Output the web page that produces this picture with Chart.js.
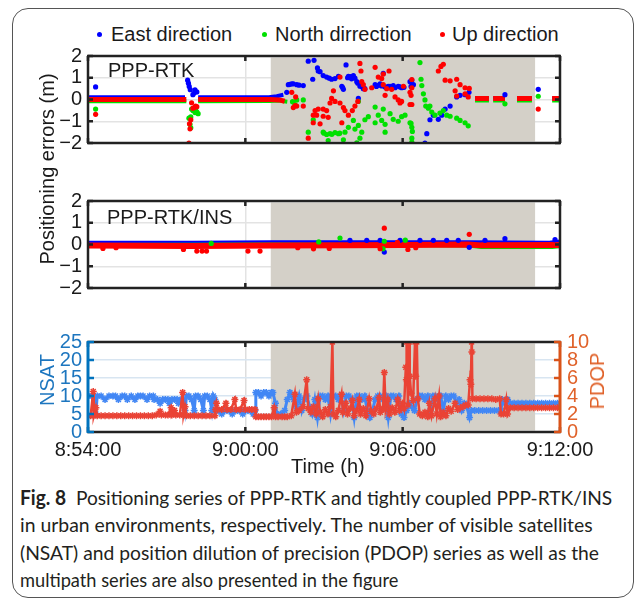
<!DOCTYPE html>
<html>
<head>
<meta charset="utf-8">
<script src="https://cdn.jsdelivr.net/npm/chart.js@4.4.1/dist/chart.umd.min.js"></script>
<style>
  body { margin: 0; width: 635px; height: 600px; position: relative; overflow: hidden; background: #fff;
         font-family: "Liberation Sans", Arial, sans-serif; color: #1a1a1a; }
  canvas { position: absolute; left: 0; }
  .t { position: absolute; white-space: nowrap; line-height: 1; font-size: 20px; }
  .dot { position: absolute; width: 5px; height: 5px; border-radius: 50%; }
  .rot { position: absolute; white-space: nowrap; line-height: 1; font-size: 20px; transform: translate(-50%, -50%) rotate(-90deg); }
  .cap { position: absolute; left: 20px; display: inline-block; white-space: nowrap; line-height: 1;
         font-family: Lato, "Noto Sans", sans-serif; font-size: 20px; color: #231f20; transform-origin: left center; }
  #box { position: absolute; left: 12px; top: 8px; width: 622px; height: 590px; box-sizing: border-box;
         border: 1.5px solid #555; border-radius: 16px; }
</style>
</head>
<body>
<div id="box"></div>

<div class="dot" style="left:97px;top:32px;background:#0000ff"></div>
<div class="t" style="left:111px;top:24px">East direction</div>
<div class="dot" style="left:262px;top:32px;background:#00e000"></div>
<div class="t" style="left:275px;top:24px">North dirrection</div>
<div class="dot" style="left:440px;top:32px;background:#ff0000"></div>
<div class="t" style="left:452px;top:24px">Up direction</div>

<canvas id="c1" width="635" height="123" style="top:38px"></canvas>
<canvas id="c2" width="635" height="123" style="top:183px"></canvas>
<canvas id="c3" width="635" height="143" style="top:323px"></canvas>

<div class="t" style="left:108px;top:60px">PPP-RTK</div>
<div class="t" style="left:107px;top:207px">PPP-RTK/INS</div>
<div class="rot" style="left:47px;top:169px">Positioning errors (m)</div>
<div class="rot" style="left:47px;top:380px;color:#1d76bf">NSAT</div>
<div class="rot" style="left:597px;top:381px;color:#e0622a">PDOP</div>
<div class="t" style="left:291px;top:456px">Time (h)</div>

<div class="cap" style="top:487px" data-w="592"><b>Fig. 8</b>&nbsp; Positioning series of PPP-RTK and tightly coupled PPP-RTK/INS</div>
<div class="cap" style="top:514px" data-w="573">in urban environments, respectively. The number of visible satellites</div>
<div class="cap" style="top:542px" data-w="579">(NSAT) and position dilution of precision (PDOP) series as well as the</div>
<div class="cap" style="top:569px" data-w="378">multipath series are also presented in the figure</div>

<script>
// time axis in minutes after 8:54:00
const timeTicks = [0, 6, 12, 18];
const timeLabels = ["8:54:00", "9:00:00", "9:06:00", "9:12:00"];
const shadeFrom = 6.97;
const shadeTo = 17.05;

// ---- PPP-RTK errors (m), [minute, value] ----
const rtkEastBand = [[0, 0.1], [3.7, 0.1], [3.71, null], [4.2, 0.1], [6.9, 0.1], [7.2, 0.15], [7.45, 0.22], [7.46, null],
  [14.76, 0.06], [15.29, 0.06], [15.3, null], [15.45, 0.06], [15.9, 0.06], [15.91, null], [16.36, 0.06], [16.93, 0.06], [16.94, null], [17.7, 0.06], [18, 0.06]];
const rtkNorthBand = [[0, -0.08], [3.75, -0.08], [3.76, null], [4.2, -0.08], [6.94, -0.07], [7.3, -0.05], [7.6, -0.1], [7.61, null],
  [14.76, -0.05], [15.29, -0.05], [15.3, null], [15.45, -0.05], [15.9, -0.05], [15.91, null], [16.36, -0.05], [16.93, -0.05], [16.94, null], [17.7, -0.05], [18, -0.05]];
const rtkUpBand = [[0, 0.0], [3.75, 0.0], [3.76, null], [4.2, 0.0], [6.94, 0.0], [7.3, -0.02], [7.5, -0.08], [7.51, null],
  [14.76, 0.05], [15.29, 0.05], [15.3, null], [15.45, 0.05], [15.9, 0.05], [15.91, null], [16.36, 0.05], [16.93, 0.05], [16.94, null], [17.7, 0.05], [18, 0.05]];

const rtkEast = [[0.29, 0.58], [3.8, 0.89], [3.83, 0.75], [3.86, 0.6], [3.9, 0.45], [4.0, 0.22], [4.05, 0.3], [4.08, 0.44], [4.15, 0.35],
  [7.58, 0.33], [7.64, 0.68], [7.7, 0.7], [7.77, 0.72], [7.83, 0.72], [7.96, 0.68], [8.05, 0.66], [8.21, 0.64],
  [8.4, 1.76], [8.57, 0.93], [8.62, 1.8], [8.75, 1.45], [8.78, 1.31], [8.85, 1.28], [8.97, 1.1], [9.1, 1.03], [9.2, 0.98], [9.29, 0.93],
  [9.42, 0.96], [9.55, 1.06], [9.68, 0.61], [9.71, 0.55], [9.74, 0.47], [9.84, 1.59], [9.9, 1.0], [9.93, 1.06], [10.0, 1.05], [10.05, 0.95],
  [10.12, 1.1], [10.18, 0.98], [10.25, 0.82], [10.29, 0.75], [10.31, 0.05], [10.37, 0.61], [10.44, 0.6], [10.5, 0.5], [10.56, 0.5],
  [10.95, 0.68], [11.0, 0.6], [11.1, 0.66], [11.14, 0.72], [11.2, 0.62], [11.26, 1.2], [11.33, 0.58], [11.39, 0.54], [11.45, 0.6],
  [11.52, 0.6], [11.58, 0.55], [11.64, 0.64], [11.71, 0.54], [11.83, 0.61], [11.9, 0.58], [11.96, 0.54], [12.05, 0.56],
  [12.28, 0.82], [12.32, 0.6], [12.35, 0.89], [12.41, 0.68], [12.85, -2.0], [12.92, -1.57], [13.04, -0.93], [13.17, -0.72],
  [13.36, -0.91], [13.49, -0.72], [13.62, -0.44], [13.81, -0.3], [14.06, 0.12], [14.19, 0.19], [14.38, 0.22], [14.53, 0.33],
  [15.9, 0.22], [17.17, 0.47]];
const rtkNorth = [[0.29, -0.44], [3.85, -0.86], [3.89, -1.14], [3.92, -1.3], [3.92, -0.8], [3.95, -0.44], [4.0, -0.5], [4.08, -0.6],
  [4.1, -0.48], [4.15, -0.57], [4.2, -0.65], [7.8, -0.1], [7.89, -0.23], [7.96, -0.02], [8.21, -0.02],
  [8.4, -1.5], [8.59, -0.93], [8.97, -1.5], [9.0, -1.55], [9.1, -1.61], [9.16, -1.89], [9.23, -1.57], [9.3, -1.6], [9.42, -1.52],
  [9.55, -1.57], [9.6, -1.55], [9.74, -1.85], [9.8, -1.5], [9.93, -1.28], [10.12, -0.96], [10.18, -1.36], [10.25, -1.99],
  [10.31, -1.19], [10.31, -0.09], [10.37, -1.78], [10.44, -1.5], [10.56, -0.93], [10.69, -0.79], [10.95, -1.07], [10.95, -0.35],
  [11.07, -0.72], [11.2, -0.96], [11.26, -0.44], [11.33, -1.14], [11.33, -1.5], [11.52, -0.65], [11.64, -0.91], [11.83, -1.0],
  [11.96, -0.79], [12.09, -0.72], [12.28, -1.07], [12.32, -1.1], [12.35, -1.28], [12.37, -1.47], [12.35, -1.78], [12.35, -1.96],
  [12.66, 1.7], [12.7, 0.93], [12.73, 0.64], [12.79, 0.26], [12.85, -0.02], [12.88, -0.3], [12.98, -0.4], [13.04, -0.3],
  [13.11, -0.58], [13.23, -0.72], [13.42, -0.62], [13.55, -0.51], [13.68, -0.72], [13.81, -0.77], [14.06, -0.86], [14.19, -0.96],
  [14.38, -1.07], [14.5, -1.21], [15.9, -0.2], [17.17, 0.15]];
const rtkUp = [[0.29, -0.68], [3.85, -2.0], [3.87, -1.12], [3.89, -1.35], [3.92, -0.93], [3.95, -0.15], [4.0, -0.4], [4.08, -0.36],
  [4.1, -0.3], [4.15, -0.33], [7.77, 0.33], [7.83, -0.37], [7.9, -0.28], [7.92, 0.12], [7.96, -0.3], [8.21, -0.3],
  [8.4, -1.78], [8.59, -0.72], [8.59, -1.07], [8.66, -0.51], [8.72, -0.72], [8.78, -0.44], [8.85, -1.12], [8.97, -0.44], [8.97, -0.77],
  [9.1, -0.51], [9.16, -0.82], [9.23, -0.16], [9.29, 0.05], [9.36, 0.4], [9.42, -0.09], [9.61, -0.16], [9.61, 1.03], [9.68, -1.07],
  [9.74, -0.37], [9.8, -0.51], [9.93, -0.72], [10.08, -0.51], [10.18, -0.3], [10.29, -0.09], [10.37, 1.66], [10.41, 1.31],
  [10.44, 0.82], [10.5, 0.68], [10.56, 0.47], [10.82, 0.54], [10.95, 1.48], [11.07, 1.03], [11.2, 0.96], [11.26, 1.17], [11.26, 0.68],
  [11.33, 0.19], [11.39, 0.5], [11.48, 1.31], [11.58, 0.47], [11.71, 0.12], [11.83, -0.02], [11.9, -0.16], [11.96, -0.09],
  [12.03, 0.61], [12.28, -0.23], [12.28, 0.33], [12.32, 0.19], [12.35, 0.54], [12.35, 0.92], [12.35, -0.23],
  [13.36, 1.31], [13.46, 1.52], [13.55, 1.62], [13.62, 0.89], [13.81, 0.86], [14.0, 0.4], [14.06, 0.93], [14.06, 0.16],
  [14.19, 0.68], [14.38, 0.54], [14.38, 0.26], [14.5, 0.12], [14.54, 0.51], [17.17, -0.44]];

// ---- PPP-RTK/INS errors (m) ----
const insEastBand = [[0, 0.08], [4, 0.08], [7, 0.1], [10, 0.1], [14.5, 0.1], [17.6, 0.08], [18, 0.14]];
const insNorthBand = [[0, -0.02], [7, 0.0], [14.5, -0.05], [15, -0.12], [17.7, -0.12], [18, -0.08]];
const insUpBand = [[0, -0.05], [4, -0.07], [7, -0.05], [10, -0.04], [12, -0.02], [14.5, 0.0], [15, -0.04], [18, -0.02]];
const insEast = [[9.99, 0.19], [10.63, 0.19], [11.14, 0.19], [11.3, -0.35], [11.9, 0.19], [12.66, 0.19], [13.17, 0.19],
  [13.68, 0.19], [14.12, 0.19], [14.54, -0.13], [15.14, 0.19], [15.9, 0.27], [17.81, 0.22]];
const insNorth = [[4.7, 0.05], [8.8, 0.12], [9.61, 0.3], [11.25, -0.2], [11.3, 0.15], [12.1, 0.2]];
const insUp = [[0.57, -0.18], [1.07, -0.15], [3.64, -0.23], [4.15, -0.3], [4.35, -0.3], [4.52, -0.3], [6.1, -0.3], [6.56, -0.3],
  [8.0, -0.15], [8.6, -0.2], [9.2, -0.18], [11.14, -0.19], [11.3, 0.75], [11.8, 0.1], [12.2, -0.23], [12.5, -0.15], [14.54, 0.47]];

// ---- NSAT and PDOP ----
const nsat = [[0, 10], [0.15, 10], [0.25, 9], [0.3, 5], [0.35, 10], [0.5, 10], [0.65, 9], [0.8, 10], [0.95, 10], [1.05, 10], [1.16, 9],
  [1.3, 10], [1.4, 10], [1.5, 9], [1.65, 10], [1.79, 9], [1.9, 10], [2.0, 10], [2.1, 10], [2.25, 9], [2.35, 10], [2.49, 10],
  [2.52, 9], [2.65, 9], [2.75, 8], [2.85, 9], [2.95, 9], [3.05, 9], [3.1, 8], [3.2, 9], [3.3, 9], [3.4, 9], [3.45, 8], [3.55, 9],
  [3.64, 9], [3.7, 6], [3.76, 10], [3.85, 10], [3.95, 9], [4.05, 6], [4.1, 10], [4.2, 10], [4.3, 9], [4.4, 6], [4.45, 10], [4.55, 10],
  [4.65, 9], [4.72, 6], [4.78, 10], [4.84, 9], [4.9, 6], [5.0, 6], [5.1, 5], [5.2, 6], [5.3, 6], [5.4, 6], [5.5, 5], [5.6, 6], [5.7, 6],
  [5.8, 6], [5.9, 5], [6.0, 6], [6.1, 6], [6.2, 6], [6.3, 5], [6.37, 6], [6.4, 11], [6.5, 11], [6.6, 10], [6.7, 11], [6.8, 11],
  [6.9, 10], [7.0, 11], [7.05, 11], [7.15, 8], [7.2, 5], [7.35, 5], [7.5, 6], [7.6, 9], [7.7, 11], [7.77, 10],
  [7.85, 9], [7.95, 7], [8.05, 10], [8.15, 6], [8.25, 9], [8.35, 10], [8.45, 7], [8.55, 5], [8.65, 9], [8.75, 4], [8.85, 10],
  [8.95, 10], [9.05, 9], [9.15, 10], [9.25, 5], [9.35, 10], [9.45, 10], [9.55, 9], [9.65, 10], [9.75, 6], [9.85, 10], [9.95, 10],
  [10.05, 9], [10.15, 4], [10.25, 10], [10.35, 10], [10.45, 9], [10.55, 10], [10.65, 6], [10.75, 4], [10.85, 6], [10.95, 9],
  [11.05, 10], [11.15, 10], [11.25, 9], [11.35, 10], [11.45, 4], [11.55, 10], [11.65, 10], [11.75, 9], [11.85, 10], [11.95, 5],
  [12.05, 4], [12.15, 6], [12.25, 8], [12.35, 7], [12.45, 6], [12.55, 9], [12.65, 10], [12.75, 10], [12.85, 9], [12.95, 10],
  [13.05, 6], [13.15, 10], [13.25, 10], [13.35, 9], [13.45, 10], [13.55, 6], [13.65, 10], [13.75, 9], [13.85, 10], [13.95, 10],
  [14.05, 8], [14.15, 9], [14.25, 6], [14.35, 8], [14.45, 7], [14.55, 4], [14.62, 6], [14.75, 6], [14.9, 6], [15.05, 6], [15.2, 6],
  [15.35, 6], [15.5, 6], [15.65, 6], [15.75, 6], [15.8, 9], [15.9, 8], [16.0, 9], [16.1, 8], [16.25, 8], [16.4, 8], [16.55, 8],
  [16.7, 8], [16.85, 8], [17.0, 8], [17.15, 8], [17.3, 8], [17.45, 8], [17.6, 8], [17.75, 8], [17.9, 8], [18, 8]];
const pdop = [[0, 1.8], [0.1, 1.8], [0.2, 4.5], [0.22, 1.8], [0.3, 2.7], [0.35, 1.8], [0.5, 1.8], [0.65, 1.8], [0.8, 1.8], [0.95, 1.8],
  [1.1, 1.8], [1.25, 1.8], [1.4, 1.8], [1.55, 1.8], [1.7, 1.8], [1.85, 1.8], [2.0, 1.8], [2.15, 1.8], [2.3, 1.8], [2.45, 1.8],
  [2.6, 1.9], [2.75, 2.3], [2.8, 1.9], [2.95, 1.9], [3.05, 1.9], [3.17, 2.7], [3.2, 1.9], [3.3, 2.4], [3.35, 1.9], [3.5, 1.9],
  [3.61, 4.4], [3.64, 1.9], [3.7, 2.8], [3.76, 1.8], [3.9, 1.8], [4.05, 1.8], [4.2, 1.8], [4.35, 1.8], [4.5, 1.8], [4.65, 1.8],
  [4.84, 1.8], [4.86, 2.5], [4.9, 3.2], [4.95, 2.5], [5.1, 2.5], [5.26, 3.2], [5.3, 2.5], [5.45, 2.5], [5.6, 3.6], [5.65, 2.5],
  [5.8, 2.5], [5.95, 3.5], [6.0, 2.5], [6.15, 2.5], [6.25, 2.5], [6.37, 2.5], [6.4, 1.7], [6.5, 1.7], [6.6, 1.7], [6.7, 1.7],
  [6.8, 1.7], [6.9, 1.7], [7.0, 1.7], [7.1, 2.7], [7.15, 1.7], [7.25, 1.7], [7.4, 1.7], [7.5, 1.7], [7.6, 1.7], [7.75, 1.8],
  [7.89, 4.2], [7.95, 2.2], [8.05, 2.4], [8.2, 2.8], [8.34, 5.8], [8.4, 2.6], [8.5, 2.2], [8.6, 2.8],
  [8.7, 2.0], [8.78, 3.7], [8.85, 2.2], [8.95, 1.7], [9.05, 2.5], [9.15, 2.0], [9.25, 2.8], [9.32, 10], [9.36, 2.0], [9.45, 1.7],
  [9.55, 2.4], [9.67, 4.2], [9.72, 2.2], [9.83, 3.2], [9.9, 2.0], [10.0, 2.6], [10.08, 3.5], [10.15, 1.8], [10.25, 2.4],
  [10.34, 3.6], [10.4, 2.0], [10.5, 2.6], [10.6, 1.8], [10.72, 3.7], [10.8, 2.3], [10.9, 2.0], [11.0, 2.6], [11.1, 3.8],
  [11.15, 2.2], [11.25, 2.6], [11.3, 6.6], [11.35, 2.5], [11.43, 3.6], [11.5, 2.0], [11.6, 2.7], [11.7, 2.2], [11.81, 3.6],
  [11.88, 2.4], [11.99, 3.2], [12.05, 2.6], [12.12, 7.2], [12.14, 5.8], [12.15, 10], [12.2, 3.0], [12.25, 10], [12.27, 6.2],
  [12.32, 4.3], [12.4, 3.5], [12.47, 10], [12.5, 6.2], [12.54, 10], [12.58, 3.7], [12.65, 2.0], [12.75, 1.8], [12.85, 2.2],
  [12.95, 1.7], [13.02, 3.2], [13.1, 1.8], [13.23, 3.7], [13.3, 2.0], [13.39, 4.0], [13.45, 1.7], [13.55, 2.2], [13.65, 1.8],
  [13.75, 2.6], [13.85, 2.3], [14.0, 3.2], [14.1, 2.5], [14.2, 2.7], [14.3, 2.8], [14.4, 3.0], [14.5, 3.0], [14.57, 5.8],
  [14.6, 5.3], [14.63, 10], [14.64, 8.9], [14.66, 3.7], [14.8, 3.7], [14.95, 3.7], [15.1, 3.7], [15.25, 3.7], [15.4, 3.7],
  [15.55, 3.6], [15.7, 3.7], [15.75, 2.0], [15.85, 2.0], [15.95, 3.6], [16.0, 2.0], [16.1, 2.7], [16.25, 2.7], [16.4, 2.7],
  [16.55, 2.7], [16.7, 2.7], [16.85, 2.7], [17.0, 2.7], [17.15, 2.7], [17.3, 2.7], [17.45, 2.7], [17.6, 2.7], [17.75, 2.7],
  [17.9, 2.7], [18, 2.7]];

Chart.defaults.font.family = "'Liberation Sans', Arial, sans-serif";
Chart.defaults.font.size = 20;
Chart.defaults.color = "#1a1a1a";

function pts(arr) {
  return arr.map(function (p) { return { x: p[0], y: p[1] }; });
}
function dots(data, color, order) {
  return { data: pts(data), backgroundColor: color, borderColor: color, pointRadius: 2.6,
           pointBorderWidth: 0, showLine: false, order: order };
}
function band(data, color, width, order) {
  return { data: pts(data), borderColor: color, backgroundColor: color, borderWidth: width,
           pointRadius: 0, showLine: true, spanGaps: false, order: order };
}
function minus(v) {
  return v < 0 ? "\u2212" + Math.abs(v) : "" + v;
}

// shaded period, black box and inward ticks
var framePlugin = {
  id: "frame",
  beforeDatasetsDraw: function (chart) {
    var a = chart.chartArea, ctx = chart.ctx, x = chart.scales.x;
    var x0 = x.getPixelForValue(shadeFrom), x1 = x.getPixelForValue(shadeTo);
    ctx.save();
    ctx.fillStyle = "#d4d0c8";
    ctx.fillRect(x0, a.top + 1.5, x1 - x0, a.bottom - a.top - 3);
    ctx.restore();
  },
  afterDatasetsDraw: function (chart, args, opts) {
    var a = chart.chartArea, ctx = chart.ctx, s = chart.scales;
    ctx.save();
    ctx.lineWidth = 2.5;
    function seg(x0, y0, x1, y1, c) {
      ctx.strokeStyle = c;
      ctx.beginPath();
      ctx.moveTo(x0, y0);
      ctx.lineTo(x1, y1);
      ctx.stroke();
    }
    seg(a.left - 1, a.top, a.right + 1, a.top, "#222");
    seg(a.left - 1, a.bottom, a.right + 1, a.bottom, "#222");
    timeTicks.forEach(function (v) {
      var px = s.x.getPixelForValue(v);
      seg(px, a.top, px, a.top + 5, "#222");
      seg(px, a.bottom, px, a.bottom - 5, "#222");
    });
    if (opts.dual) {
      ctx.lineWidth = 3;
      seg(a.left, a.top - 1, a.left, a.bottom + 1, "#0072bd");
      seg(a.right, a.top - 1, a.right, a.bottom + 1, "#d95319");
      ctx.lineWidth = 2.5;
      s.y.ticks.forEach(function (t) {
        var py = s.y.getPixelForValue(t.value);
        seg(a.left, py, a.left + 6, py, "#0072bd");
      });
      s.y2.ticks.forEach(function (t) {
        var py = s.y2.getPixelForValue(t.value);
        seg(a.right, py, a.right - 6, py, "#d95319");
      });
    } else {
      seg(a.left, a.top, a.left, a.bottom, "#222");
      seg(a.right, a.top, a.right, a.bottom, "#222");
      s.y.ticks.forEach(function (t) {
        var py = s.y.getPixelForValue(t.value);
        seg(a.left, py, a.left + 5, py, "#222");
        seg(a.right, py, a.right - 5, py, "#222");
      });
    }
    ctx.restore();
  }
};

function errOptions() {
  return {
    responsive: false,
    animation: false,
    events: [],
    layout: { padding: { top: 14, right: 75, bottom: 14, left: 0 } },
    plugins: { legend: { display: false }, tooltip: { enabled: false }, frame: { dual: false } },
    scales: {
      x: {
        type: "linear", min: 0, max: 18,
        afterFit: function (sc) { sc.height = 0; },
        ticks: { display: false, stepSize: 6 },
        grid: { color: "#e3e3e3", lineWidth: 1.5, drawTicks: false },
        border: { display: false }
      },
      y: {
        min: -2, max: 2,
        afterFit: function (sc) { sc.width = 88; },
        ticks: { stepSize: 1, padding: 6, autoSkip: false, callback: minus },
        grid: { color: "#e3e3e3", lineWidth: 1.5, drawTicks: false },
        border: { display: false }
      }
    }
  };
}

new Chart(document.getElementById("c1"), {
  type: "scatter",
  data: {
    datasets: [
      band(rtkEastBand, "#0000ff", 4, 6),
      band(rtkNorthBand, "#00e000", 4, 5),
      band(rtkUpBand, "#ff0000", 5, 4),
      dots(rtkEast, "#0000ff", 3),
      dots(rtkNorth, "#00e000", 2),
      dots(rtkUp, "#ff0000", 1)
    ]
  },
  options: errOptions(),
  plugins: [framePlugin]
});

new Chart(document.getElementById("c2"), {
  type: "scatter",
  data: {
    datasets: [
      band(insEastBand, "#0000ff", 4, 6),
      band(insNorthBand, "#00e000", 4, 5),
      band(insUpBand, "#ff0000", 6, 4),
      dots(insEast, "#0000ff", 3),
      dots(insNorth, "#00e000", 2),
      dots(insUp, "#ff0000", 1)
    ]
  },
  options: errOptions(),
  plugins: [framePlugin]
});

new Chart(document.getElementById("c3"), {
  type: "scatter",
  data: {
    datasets: [
      { label: "NSAT", data: pts(nsat), yAxisID: "y", showLine: true, borderColor: "#4287f5", backgroundColor: "#4287f5",
        borderWidth: 3, pointStyle: "star", pointRadius: 3.5, pointBorderWidth: 1.5, pointBorderColor: "#4287f5", order: 2 },
      { label: "PDOP", data: pts(pdop), yAxisID: "y2", showLine: true, borderColor: "#ea4335", backgroundColor: "#ea4335",
        borderWidth: 2.5, pointStyle: "star", pointRadius: 3.5, pointBorderWidth: 1.5, pointBorderColor: "#ea4335", order: 1 }
    ]
  },
  options: {
    responsive: false,
    animation: false,
    events: [],
    layout: { padding: { top: 14, right: 0, bottom: 4, left: 0 } },
    plugins: { legend: { display: false }, tooltip: { enabled: false }, frame: { dual: true } },
    scales: {
      x: {
        type: "linear", min: 0, max: 18,
        afterFit: function (sc) { sc.height = 30; },
        ticks: { stepSize: 6, padding: 6, maxRotation: 0, autoSkip: false,
                 callback: function (v) { return timeLabels[timeTicks.indexOf(v)]; } },
        grid: { color: "#dedede", lineWidth: 1.5, drawTicks: false },
        border: { display: false }
      },
      y: {
        position: "left", min: 0, max: 25,
        afterFit: function (sc) { sc.width = 88; },
        ticks: { stepSize: 5, padding: 6, autoSkip: false, color: "#1d76bf" },
        grid: { color: "#d8e5f1", lineWidth: 1.5, drawTicks: false },
        border: { display: false }
      },
      y2: {
        position: "right", min: 0, max: 10,
        afterFit: function (sc) { sc.width = 75; },
        ticks: { stepSize: 2, padding: 7, autoSkip: false, color: "#e0622a" },
        grid: { display: false, drawTicks: false },
        border: { display: false }
      }
    }
  },
  plugins: [framePlugin]
});

// fit caption lines to their widths
document.querySelectorAll(".cap").forEach(function (el) {
  var w = el.offsetWidth;
  var k = (+el.dataset.w) / w;
  el.style.transform = "scaleX(" + k + ")";
});
</script>
</body>
</html>
